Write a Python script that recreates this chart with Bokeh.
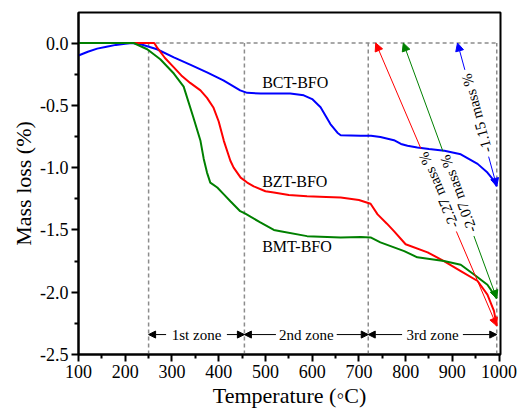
import math
from bokeh.plotting import figure
from bokeh.models import (Arrow, NormalHead, FixedTicker, NumeralTickFormatter,
                          ColumnDataSource, Range1d)
from bokeh.core.properties import value
from bokeh.embed import file_html
from bokeh.resources import INLINE

# ---------------- data ----------------
bct_x = [100, 120, 140, 160, 180, 200, 215, 233, 268, 304, 340, 375, 410, 446, 461, 490,
         553, 582, 600, 618, 639, 654, 661, 704, 726, 746, 775, 790, 804, 825, 850, 883,
         918, 954, 975, 989, 995]
bct_y = [-0.10, -0.07, -0.045, -0.03, -0.015, -0.005, 0.0, -0.01, -0.05, -0.115, -0.175,
         -0.235, -0.30, -0.38, -0.40, -0.405, -0.405, -0.42, -0.45, -0.515, -0.65, -0.72,
         -0.74, -0.745, -0.745, -0.755, -0.78, -0.81, -0.825, -0.838, -0.85, -0.865,
         -0.893, -0.97, -1.04, -1.105, -1.15]

bzt_x = [100, 150, 200, 250, 262, 268, 285, 304, 320, 339, 361, 375, 389, 400, 411, 425,
         432, 447, 461, 475, 500, 518, 550, 589, 630, 661, 700, 725, 740, 760, 775, 800,
         847, 882, 918, 954, 975, 989, 995]
bzt_y = [0.0, 0.0, 0.0, 0.0, 0.0, -0.035, -0.12, -0.195, -0.26, -0.32, -0.38, -0.44,
         -0.52, -0.63, -0.785, -0.945, -1.0, -1.08, -1.12, -1.15, -1.19, -1.20, -1.22,
         -1.23, -1.235, -1.24, -1.26, -1.29, -1.375, -1.45, -1.51, -1.615, -1.68, -1.75,
         -1.83, -1.91, -2.02, -2.15, -2.27]

bmt_x = [100, 150, 200, 218, 247, 275, 304, 325, 346, 361, 368, 375, 382, 397, 411, 425,
         446, 457, 489, 518, 532, 589, 661, 704, 725, 746, 797, 825, 882, 918, 947, 975,
         995]
bmt_y = [0.0, 0.0, 0.0, 0.0, -0.05, -0.13, -0.245, -0.35, -0.60, -0.785, -0.93, -1.04,
         -1.12, -1.16, -1.215, -1.27, -1.35, -1.37, -1.44, -1.50, -1.51, -1.55, -1.56,
         -1.557, -1.56, -1.60, -1.67, -1.72, -1.75, -1.78, -1.86, -1.94, -2.05]

series_names = ["BCT-BFO", "BZT-BFO", "BMT-BFO"]
series_colors = ["#0000ff", "#ff0000", "#008000"]
name_label_x = [493, 493, 493]
name_label_y = [-0.316, -1.11, -1.635]

zone_bounds = [250, 455, 720, 995]
zone_names = ["1st zone", "2nd zone", "3rd zone"]
zone_label_y = -2.34

mass_texts = ["-1.15 mass %", "-2.27 mass %", "-2.07 mass %"]
mass_top_x = [911, 736, 795]
mass_text_t = [0.49, 0.52, 0.59]

x_ticks = [100, 200, 300, 400, 500, 600, 700, 800, 900, 1000]
y_ticks = [-2.5, -2.0, -1.5, -1.0, -0.5, 0.0]

# ---------------- figure ----------------
X0, X1 = 100, 1003
Y0, Y1 = -2.5, 0.245
FW, FH = 422, 342
FONT = "Liberation Serif"

p = figure(frame_width=FW, frame_height=FH, x_range=Range1d(X0, X1), y_range=Range1d(Y0, Y1),
           output_backend="svg", toolbar_location=None,
           min_border_left=78, min_border_right=22, min_border_top=12, min_border_bottom=57)
p.background_fill_color = "white"
p.border_fill_color = "white"
p.xgrid.visible = False
p.ygrid.visible = False
p.outline_line_color = "black"
p.outline_line_width = 2

for ax in (p.xaxis[0], p.yaxis[0]):
    ax.axis_line_width = 2
    ax.major_tick_line_width = 2
    ax.minor_tick_line_width = 2
    ax.major_tick_in = 0
    ax.major_tick_out = 7
    ax.minor_tick_in = 0
    ax.minor_tick_out = 4
    ax.major_label_text_font = FONT
    ax.major_label_text_font_size = "18px"
    ax.major_label_text_color = "black"
    ax.axis_label_text_font = FONT
    ax.axis_label_text_font_size = "22px"
    ax.axis_label_text_font_style = "normal"
    ax.axis_label_text_color = "black"

p.xaxis.ticker = FixedTicker(ticks=x_ticks, minor_ticks=[150 + 100 * i for i in range(9)])
p.yaxis.ticker = FixedTicker(ticks=y_ticks, minor_ticks=[-2.25, -1.75, -1.25, -0.75, -0.25])
p.yaxis.formatter = NumeralTickFormatter(format="0.0")
p.xaxis.axis_label = "Temperature (\u25e6C)"
p.yaxis.axis_label = "Mass loss (%)"
p.xaxis.major_label_standoff = 3
p.yaxis.major_label_standoff = 3
p.xaxis.axis_label_standoff = 2
p.yaxis.axis_label_standoff = 1

sx = FW / (X1 - X0)
sy = FH / (Y1 - Y0)

# dashed guide lines
dash_src = ColumnDataSource(dict(
    x0=zone_bounds + [zone_bounds[0]],
    x1=zone_bounds + [zone_bounds[-1]],
    y0=[Y0] * len(zone_bounds) + [0.0],
    y1=[0.0] * len(zone_bounds) + [0.0]))
p.segment("x0", "y0", "x1", "y1", source=dash_src, line_color="#8c8c8c",
          line_width=1.5, line_dash="4 3")

# curves
for xs, ys, c in [(bct_x, bct_y, series_colors[0]), (bzt_x, bzt_y, series_colors[1]),
                  (bmt_x, bmt_y, series_colors[2])]:
    p.line(xs, ys, line_color=c, line_width=2)

# curve names
p.text(x=name_label_x, y=name_label_y, text=series_names, text_font=value(FONT),
       text_font_size="16px", text_color="black", text_align="left", text_baseline="middle")

# zone labels with arrows
zc = [(zone_bounds[i] + zone_bounds[i + 1]) / 2 for i in range(len(zone_names))]
p.text(x=zc, y=[zone_label_y] * 3, text=zone_names, text_font=value(FONT),
       text_font_size="15px", text_color="black", text_align="center", text_baseline="middle")
for i, nm in enumerate(zone_names):
    half = (len(nm) * 6.6 / 2 + 4) / sx
    a, b = zone_bounds[i], zone_bounds[i + 1]
    p.add_layout(Arrow(x_start=zc[i] - half, y_start=zone_label_y, x_end=a, y_end=zone_label_y,
                       line_color="black", line_width=1,
                       end=NormalHead(size=7, fill_color="black", line_color="black")))
    p.add_layout(Arrow(x_start=zc[i] + half, y_start=zone_label_y, x_end=b, y_end=zone_label_y,
                       line_color="black", line_width=1,
                       end=NormalHead(size=7, fill_color="black", line_color="black")))

# mass-loss arrows with rotated text
tx, ty, ta, tc = [], [], [], []
for xs, ys, c, xt, t, txt in [(bct_x, bct_y, series_colors[0], mass_top_x[0], mass_text_t[0], mass_texts[0]),
                              (bzt_x, bzt_y, series_colors[1], mass_top_x[1], mass_text_t[1], mass_texts[1]),
                              (bmt_x, bmt_y, series_colors[2], mass_top_x[2], mass_text_t[2], mass_texts[2])]:
    xb, yb = xs[-1], ys[-1]
    yt = 0.0
    cx = xt + t * (xb - xt)
    cy = yt + t * (yb - yt)
    dxp = (xt - xb) * sx
    dyp = (yt - yb) * sy
    L = math.hypot(dxp, dyp)
    ux, uy = dxp / L, dyp / L  # pixel unit vector bottom->top
    gap = 45
    p.add_layout(Arrow(x_start=cx + ux * gap / sx, y_start=cy + uy * gap / sy, x_end=xt, y_end=yt,
                       line_color=c, line_width=1,
                       end=NormalHead(size=8, fill_color=c, line_color=c)))
    p.add_layout(Arrow(x_start=cx - ux * gap / sx, y_start=cy - uy * gap / sy, x_end=xb, y_end=yb,
                       line_color=c, line_width=1,
                       end=NormalHead(size=8, fill_color=c, line_color=c)))
    tx.append(cx)
    ty.append(cy)
    ta.append(math.atan2(dyp, dxp))
    tc.append(txt)

p.text(x=tx, y=ty, text=tc, angle=ta, text_font=value(FONT), text_font_size="15px",
       text_color="black", text_align="center", text_baseline="middle")

open("out.html", "w").write(file_html(p, INLINE))
